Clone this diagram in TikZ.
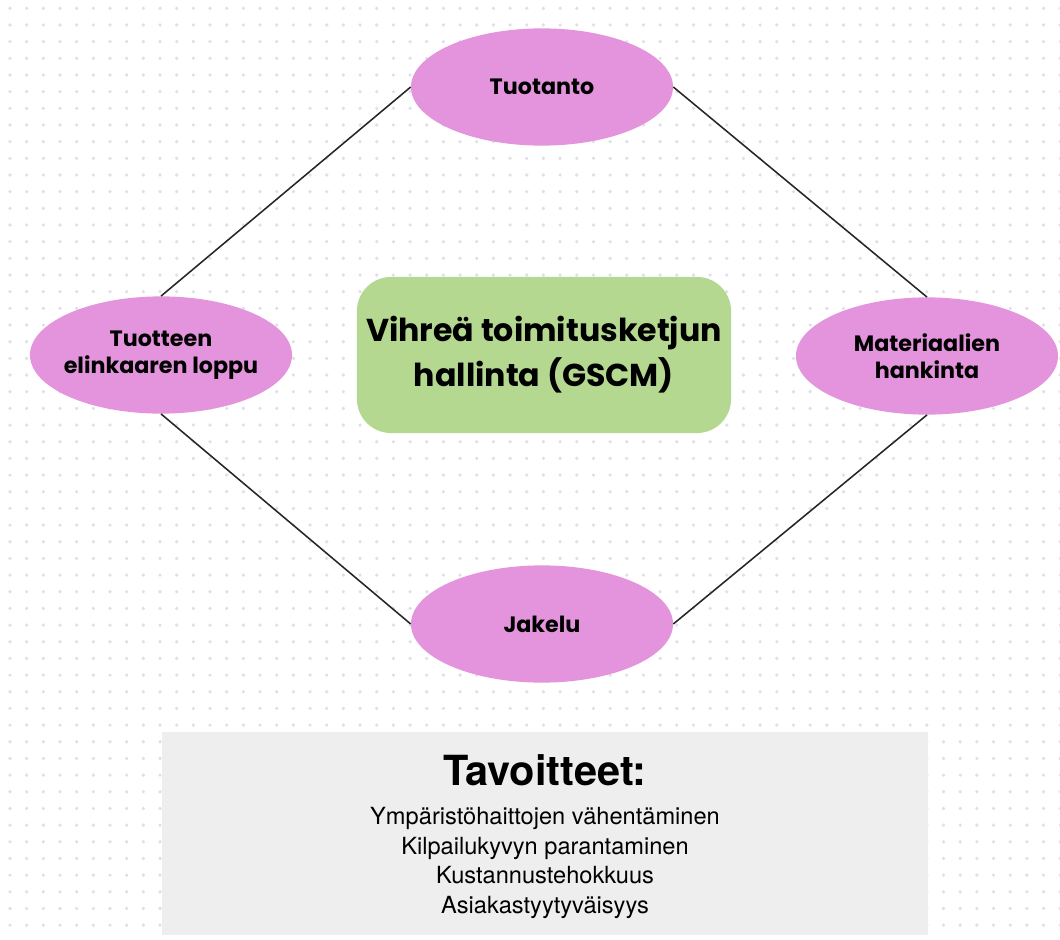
\documentclass[tikz,border=0pt]{standalone}
\usepackage{fontspec}
\setmainfont{TeX Gyre Heros}
\newfontfamily\nodefont{Poppins}
\usepackage{xcolor}
\usepackage{tikz}
\usetikzlibrary{
    positioning, % relative placement
    shapes.geometric % ellipse nodes
}
\definecolor{dotgray}{RGB}{222,224,230}
\definecolor{phasepink}{RGB}{228,148,220}
\definecolor{gscmgreen}{RGB}{180,216,144}
\definecolor{goalgray}{RGB}{238,238,238}

\begin{document}
\begin{tikzpicture}[x=0.025cm, y=-0.025cm]
    % styles
    \tikzstyle{phase} = [ellipse, fill=phasepink, text=black, text centered, align=center,
                         inner xsep=-1cm, inner ysep=0pt, minimum width=6.55cm, minimum height=2.93cm,
                         font=\nodefont\bfseries\fontsize{15.8pt}{19.5pt}\selectfont]
    \tikzstyle{core}  = [rectangle, rounded corners=0.85cm, fill=gscmgreen, align=center,
                         inner sep=0pt, minimum width=9.35cm, minimum height=3.9cm,
                         font=\nodefont\bfseries\fontsize{22.5pt}{32pt}\selectfont]
    \tikzstyle{line}  = [draw=black!85, line width=1.1pt]
    % background with dots
    \useasboundingbox (0,0) rectangle (1060,940);
    \fill[white] (0,0) rectangle (1060,940);
    \foreach \i in {0,...,63}
      \foreach \j in {0,...,56}
        \fill[dotgray] (10+\i*16.67, 8.3+\j*16.67) circle[radius=0.045cm];
    % phases
    \node[phase] (prod) at (542, 87)  {Tuotanto};
    \node[phase] (eol)  at (161, 355) {Tuotteen\\elinkaaren loppu};
    \node[phase] (mat)  at (927, 356) {Materiaalien\\hankinta};
    \node[phase] (dist) at (542, 624) {Jakelu};
    % center
    \node[core] (gscm) at (544, 355) {Vihreä toimitusketjun\\hallinta (GSCM)};
    % connectors
    \draw[line] (prod.west) -- (eol.north);
    \draw[line] (prod.east) -- (mat.north);
    \draw[line] (eol.south) -- (dist.west);
    \draw[line] (mat.south) -- (dist.east);
    % goals
    \node[rectangle, fill=goalgray, inner sep=0pt, minimum width=19.15cm,
          minimum height=5.075cm] (goals) at (545, 833.5) {};
    \node[font=\bfseries\fontsize{29.5pt}{34pt}\selectfont] (goaltitle) at (545, 770) {Tavoitteet:};
    \node[align=center, font=\fontsize{16.8pt}{21.3pt}\selectfont, below=8pt of goaltitle] (goallist)
        {Ympäristöhaittojen vähentäminen\\Kilpailukyvyn parantaminen\\Kustannustehokkuus\\Asiakastyytyväisyys};
\end{tikzpicture}
\end{document}
